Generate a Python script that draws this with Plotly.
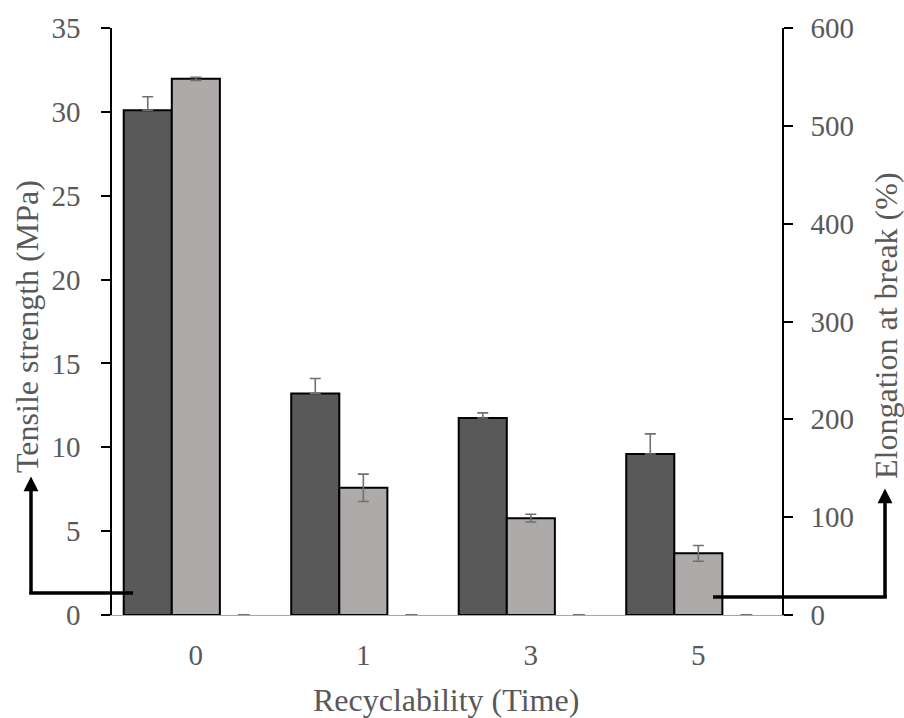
import plotly.graph_objects as go

# Recycling cycles and measured properties
cycles = ["0", "1", "3", "5"]
tensile_mpa = [30.1, 13.2, 11.75, 9.6]
tensile_err = [0.8, 0.9, 0.3, 1.2]
elongation_pct = [548, 130, 99, 63]
elongation_err = [1.5, 14, 4, 8]
placeholder = [0, 0, 0, 0]

# Plot-area frame in pixels
W_FIG, H_FIG = 904, 718
L, R, T, B = 112, 782, 26, 615
PW, PH = R - L, B - T


def px(x):
    return (x - L) / PW


def py(y):
    return (B - y) / PH


FONT = "Liberation Serif, Times New Roman, serif"
TXT = "#595959"
BAR_W = 0.287

fig = go.Figure()

fig.add_trace(go.Bar(
    x=cycles, y=tensile_mpa, yaxis="y",
    width=BAR_W, offset=-0.43,
    marker=dict(color="#595959", line=dict(color="black", width=2)),
    error_y=dict(type="data", array=tensile_err, arrayminus=placeholder,
                 symmetric=False, color="#707070", thickness=1.6, width=5.5),
    name="Tensile strength",
))
fig.add_trace(go.Bar(
    x=cycles, y=elongation_pct, yaxis="y2",
    width=BAR_W, offset=-0.143,
    marker=dict(color="#AEAAAA", line=dict(color="black", width=2)),
    error_y=dict(type="data", array=elongation_err, color="#707070",
                 thickness=1.6, width=5.5),
    name="Elongation at break",
))
fig.add_trace(go.Bar(
    x=cycles, y=placeholder, yaxis="y",
    width=BAR_W, offset=0.144,
    marker=dict(color="#595959", line=dict(color="black", width=0)),
    error_y=dict(type="data", array=placeholder, color="#404040",
                 thickness=1.6, width=6),
    showlegend=False,
))

axis_font = dict(family=FONT, size=29, color=TXT)

fig.update_layout(
    width=W_FIG, height=H_FIG,
    margin=dict(l=L, r=W_FIG - R, t=T, b=H_FIG - B, pad=0),
    paper_bgcolor="white", plot_bgcolor="white",
    barmode="overlay", showlegend=False,
    font=dict(family=FONT, color=TXT),
    xaxis=dict(
        type="category", range=[-0.5, 3.5],
        showline=True, linecolor="#a6a6a6", linewidth=1.2,
        ticks="", showgrid=False, zeroline=False,
        tickfont=axis_font, ticklabelstandoff=14,
    ),
    yaxis=dict(
        range=[0, 35], dtick=5, showgrid=False, zeroline=False,
        showline=True, linecolor="black", linewidth=1.6,
        ticks="outside", ticklen=9, tickwidth=1.6, tickcolor="black",
        tickfont=axis_font, ticklabelstandoff=15,
    ),
    yaxis2=dict(
        range=[0, 600], dtick=100, overlaying="y", side="right",
        showgrid=False, zeroline=False,
        showline=True, linecolor="black", linewidth=1.6,
        ticks="outside", ticklen=9, tickwidth=1.6, tickcolor="black",
        tickfont=axis_font, ticklabelstandoff=12,
    ),
)

title_font = dict(family=FONT, size=32, color=TXT)
fig.add_annotation(text="Tensile strength (MPa)", textangle=-90,
                   xref="paper", yref="paper", x=px(27), y=py(326),
                   xanchor="center", yanchor="middle", showarrow=False,
                   font=title_font)
fig.add_annotation(text="Elongation at break (%)", textangle=-90,
                   xref="paper", yref="paper", x=px(886), y=py(325),
                   xanchor="center", yanchor="middle", showarrow=False,
                   font=title_font)
fig.add_annotation(text="Recyclability (Time)",
                   xref="paper", yref="paper", x=px(446), y=py(700),
                   xanchor="center", yanchor="middle", showarrow=False,
                   font=title_font)

# Pointer arrows from the bars to their axis titles
LW = 3.5
fig.add_shape(type="line", xref="paper", yref="paper",
              x0=px(133), y0=py(593), x1=px(31 - LW / 2), y1=py(593),
              line=dict(color="black", width=LW))
fig.add_annotation(xref="paper", yref="paper", x=px(31), y=py(476),
                   ax=0, ay=593 + LW / 2 - 476, text="", showarrow=True,
                   arrowhead=2, arrowsize=0.85, arrowwidth=LW, arrowcolor="black")

fig.add_shape(type="line", xref="paper", yref="paper",
              x0=px(713), y0=py(597), x1=px(885 + LW / 2), y1=py(597),
              line=dict(color="black", width=LW))
fig.add_annotation(xref="paper", yref="paper", x=px(885), y=py(488),
                   ax=0, ay=597 + LW / 2 - 488, text="", showarrow=True,
                   arrowhead=2, arrowsize=0.85, arrowwidth=LW, arrowcolor="black")

fig.write_html("out.html")
